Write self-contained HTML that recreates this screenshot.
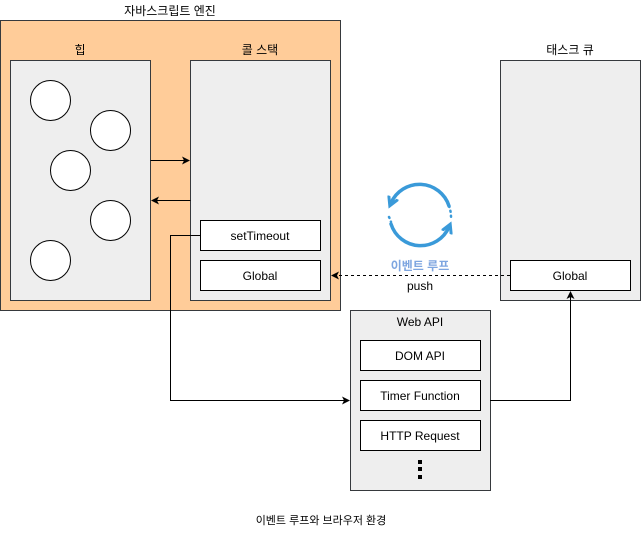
<!DOCTYPE html>
<html><head><meta charset="utf-8"><style>body{margin:0;background:#fff}svg text{font-family:"Liberation Sans","Noto Sans CJK KR",sans-serif;font-size:12px;fill:#000}</style></head><body>
<svg width="642" height="532" viewBox="0 0 642 532" xmlns="http://www.w3.org/2000/svg">
<defs>
<marker id="a" markerWidth="8" markerHeight="8" refX="7" refY="4" orient="auto" markerUnits="userSpaceOnUse"><path d="M0,0 L8,4 L0,8 L2,4 Z" fill="#000"/></marker>
<marker id="b" markerWidth="12" markerHeight="12" refX="6" refY="6" orient="auto" markerUnits="userSpaceOnUse"><path d="M0,1 L9,6 L0,11" fill="none" stroke="#3a9ad9" stroke-width="3" stroke-linecap="round"/></marker>
</defs>
<rect x="0.5" y="20.5" width="340" height="290" fill="#ffcc99" stroke="#36393d"/>
<text x="170" y="15" text-anchor="middle">자바스크립트 엔진</text>
<rect x="10.5" y="60.5" width="140" height="240" fill="#eeeeee" stroke="#36393d"/>
<text x="80" y="54" text-anchor="middle">힙</text>
<rect x="190.5" y="60.5" width="140" height="240" fill="#eeeeee" stroke="#36393d"/>
<text x="260" y="54" text-anchor="middle">콜 스택</text>
<g fill="#fff" stroke="#000"><circle cx="50.5" cy="100.5" r="20"/><circle cx="110.5" cy="130.5" r="20"/><circle cx="70.5" cy="170.5" r="20"/><circle cx="110.5" cy="220.5" r="20"/><circle cx="50.5" cy="260.5" r="20"/></g>
<rect x="200.5" y="220.5" width="120" height="30" fill="#fff" stroke="#000"/>
<text x="260" y="240" text-anchor="middle">setTimeout</text>
<rect x="200.5" y="260.5" width="120" height="30" fill="#fff" stroke="#000"/>
<text x="260" y="280" text-anchor="middle">Global</text>
<rect x="500.5" y="60.5" width="140" height="240" fill="#eeeeee" stroke="#36393d"/>
<text x="570" y="54" text-anchor="middle">태스크 큐</text>
<rect x="510.5" y="260.5" width="120" height="30" fill="#fff" stroke="#000"/>
<text x="570" y="280" text-anchor="middle">Global</text>
<rect x="350.5" y="310.5" width="140" height="180" fill="#eeeeee" stroke="#36393d"/>
<text x="420" y="326" text-anchor="middle">Web API</text>
<rect x="360.5" y="340.5" width="120" height="30" fill="#fff" stroke="#000"/>
<text x="420" y="360" text-anchor="middle">DOM API</text>
<rect x="360.5" y="380.5" width="120" height="30" fill="#fff" stroke="#000"/>
<text x="420" y="400" text-anchor="middle">Timer Function</text>
<rect x="360.5" y="420.5" width="120" height="30" fill="#fff" stroke="#000"/>
<text x="420" y="440" text-anchor="middle">HTTP Request</text>
<g fill="#000"><rect x="418" y="460" width="4" height="4"/><rect x="418" y="467" width="4" height="4"/><rect x="418" y="475" width="4" height="4"/></g>
<g stroke="#000" fill="none">
<path d="M150.5 160.5 H189" marker-end="url(#a)"/>
<path d="M190.5 200.5 H152" marker-end="url(#a)"/>
<path d="M200 235.5 H170.5 V400.5 H349" marker-end="url(#a)"/>
<path d="M490 400.5 H570.5 V292" marker-end="url(#a)"/>
<path d="M510 275.5 H332" stroke-dasharray="3,3" marker-end="url(#a)"/>
</g>
<text x="420" y="290" text-anchor="middle">push</text>
<text x="420" y="270" text-anchor="middle" style="fill:#7ea6e0;font-weight:bold">이벤트 루프</text>
<g stroke="#3a9ad9" stroke-width="3.5" fill="none" stroke-linecap="round">
<path d="M449 206 A31 31 0 0 0 391 203" marker-end="url(#b)"/>
<path d="M391 224 A31 31 0 0 0 449 227" marker-end="url(#b)"/>
<path d="M449 206 A31 31 0 0 1 451 217" stroke-dasharray="1,4" stroke-width="2.5"/>
<path d="M389 217 A31 31 0 0 1 391 222" stroke-dasharray="1,4" stroke-width="2.5"/>
</g>
<text x="321" y="524" text-anchor="middle" style="font-size:11px">이벤트 루프와 브라우저 환경</text>
</svg>
</body></html>
